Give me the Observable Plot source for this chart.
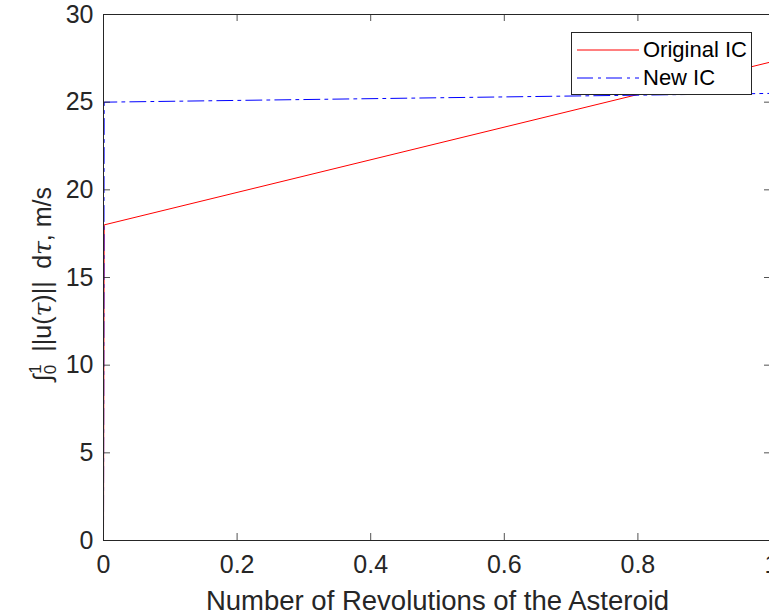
<!DOCTYPE html>
<html>
<head>
<meta charset="utf-8">
<script src="https://cdn.jsdelivr.net/npm/d3@7"></script>
<script src="https://cdn.jsdelivr.net/npm/@observablehq/plot@0.6"></script>
<style>
  html, body { margin: 0; padding: 0; overflow: hidden; background: white; }
  #wrap { position: relative; width: 769px; height: 616px; overflow: hidden; }
  #chart { width: 790px; }
  #chart svg { max-width: none !important; }
  #legend { position: absolute; left: 571px; top: 32px; width: 181px; height: 63px;
    border: 1px solid #262626; background: white; font-family: "Liberation Sans", Arial, sans-serif;
    font-size: 22px; color: #000; box-sizing: border-box; }
  .row { position: absolute; left: 0; height: 26px; display: flex; align-items: center; }
  .row svg { margin-left: 5px; margin-right: 4px; }
</style>
</head>
<body>
<div id="wrap"><div id="chart"></div><div id="legend"></div></div>
<script>
// Data
const seriesNames = ["Original IC", "New IC"];
const revolutions = [0, 0.001, 1];
const originalIC = [0, 18, 27.3];
const newIC = [0, 25, 25.5];
const xTicks = [0, 0.2, 0.4, 0.6, 0.8, 1];
const yTicks = [0, 5, 10, 15, 20, 25, 30];
const xLabel = "Number of Revolutions of the Asteroid";

const colors = ["#ff0000", "#0000ff"];
const dashes = [null, "16,5,3,5"];

const rowsOrig = revolutions.map((x, i) => ({x, y: originalIC[i]}));
const rowsNew = revolutions.map((x, i) => ({x, y: newIC[i]}));

const W = 790, H = 616, mL = 103, mR = 19, mT = 14, mB = 76;
const pw = W - mL - mR, ph = H - mT - mB, tk = 7;

const chart = Plot.plot({
  width: W, height: H,
  marginLeft: mL, marginRight: mR, marginTop: mT, marginBottom: mB,
  x: {domain: [0, 1]},
  y: {domain: [0, 30]},
  style: {fontFamily: "Liberation Sans, Arial, sans-serif", fontSize: "25px", color: "#262626", background: "white", maxWidth: "none"},
  marks: [
    Plot.line(rowsOrig, {x: "x", y: "y", stroke: colors[0], strokeWidth: 1}),
    Plot.line(rowsNew, {x: "x", y: "y", stroke: colors[1], strokeWidth: 1, strokeDasharray: dashes[1]}),
    Plot.tickX(xTicks, {x: d => d, insetTop: ph - tk, stroke: "#262626", strokeWidth: 0.8}),
    Plot.tickX(xTicks, {x: d => d, insetBottom: ph - tk, stroke: "#262626", strokeWidth: 0.8}),
    Plot.tickY(yTicks, {y: d => d, insetRight: pw - tk, stroke: "#262626", strokeWidth: 0.8}),
    Plot.tickY(yTicks, {y: d => d, insetLeft: pw - tk, stroke: "#262626", strokeWidth: 0.8}),
    Plot.frame({stroke: "#262626", strokeWidth: 1}),
    Plot.axisX(xTicks, {anchor: "bottom", tickSize: 0, tickPadding: 15, label: null, fontSize: 25, tickFormat: d => String(d)}),
    Plot.axisY(yTicks, {anchor: "left", tickSize: 0, tickPadding: 10, label: null, fontSize: 25}),
    Plot.text([xLabel], {text: d => d, frameAnchor: "bottom", lineAnchor: "top", dy: 50, fontSize: 27.5, fill: "#262626"})
  ]
});
document.getElementById("chart").appendChild(chart);

// Y-axis label with integral sub/superscripts
const svg = d3.select(chart);
const yl = svg.append("text")
  .attr("transform", `translate(51, ${mT + ph / 2 + 7}) rotate(-90)`)
  .attr("text-anchor", "middle")
  .attr("font-size", 25)
  .attr("fill", "#262626")
  .attr("font-family", "Liberation Sans, Arial, sans-serif");
yl.append("tspan").text("\u222B");
yl.append("tspan").attr("font-size", 17).attr("dy", 5).text("0");
yl.append("tspan").attr("font-size", 17).attr("dx", -9).attr("dy", -15).text("1");
yl.append("tspan").attr("dy", 10).text("\u2002||u(");
yl.append("tspan").attr("font-style", "italic").attr("font-family", "DejaVu Serif, serif").text("\u03C4");
yl.append("tspan").text(")||\u2002d");
yl.append("tspan").attr("font-style", "italic").attr("font-family", "DejaVu Serif, serif").text("\u03C4");
yl.append("tspan").text(", m/s");

// Legend
const legend = document.getElementById("legend");
seriesNames.forEach((name, i) => {
  const row = document.createElement("div");
  row.className = "row";
  row.style.top = (i === 0 ? 4 : 32) + "px";
  row.innerHTML = `<svg width="62" height="4"><line x1="0" x2="62" y1="2" y2="2" stroke="${colors[i]}" stroke-width="1" ${dashes[i] ? `stroke-dasharray="${dashes[i]}"` : ""}/></svg><span>${name}</span>`;
  legend.appendChild(row);
});
</script>
</body>
</html>
